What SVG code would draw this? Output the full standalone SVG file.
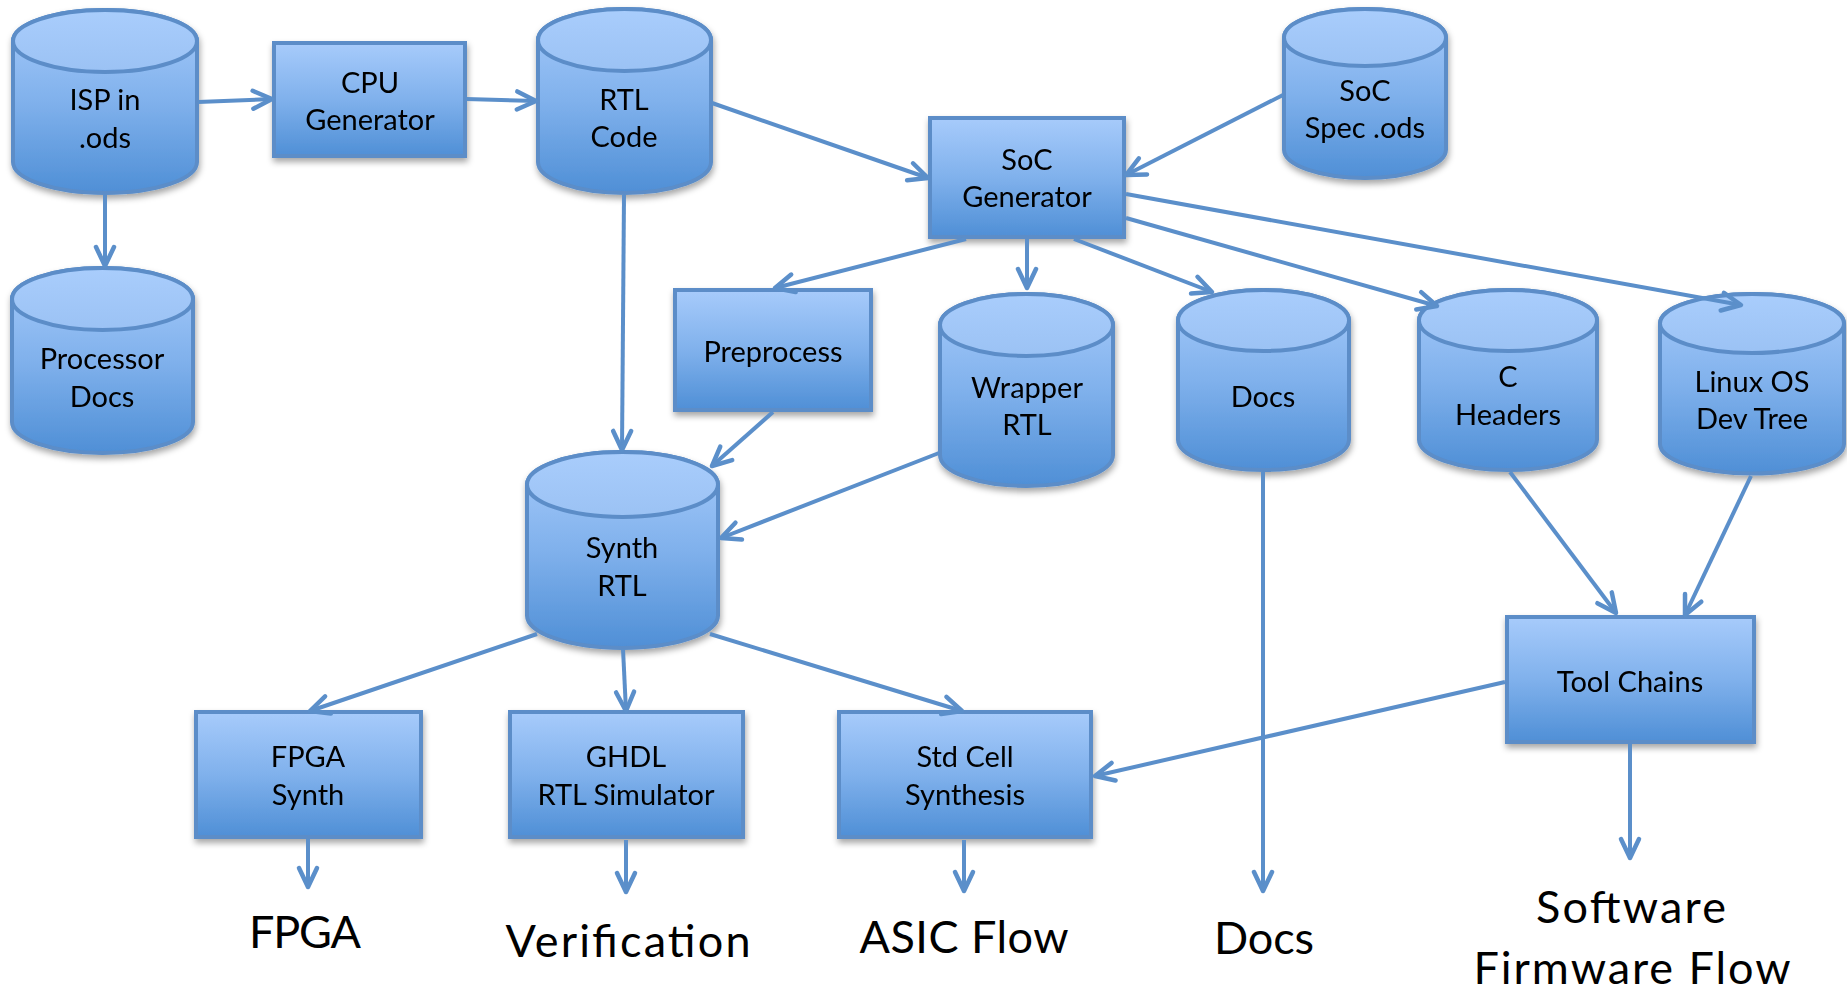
<svg xmlns="http://www.w3.org/2000/svg" width="1847" height="991" viewBox="0 0 1847 991">
  <defs>
    <linearGradient id="fillBlue" x1="0" y1="0" x2="0" y2="1">
      <stop offset="0" stop-color="#a7cbfb"/>
      <stop offset="0.5" stop-color="#80b1ec"/>
      <stop offset="1" stop-color="#4f8fd6"/>
    </linearGradient>
    <linearGradient id="capBlue" x1="0" y1="0" x2="0" y2="1">
      <stop offset="0" stop-color="#a9cdfc"/>
      <stop offset="1" stop-color="#9bc2f4"/>
    </linearGradient>
    <filter id="shadow" x="-10%" y="-10%" width="125%" height="130%">
      <feDropShadow dx="1" dy="4" stdDeviation="3" flood-color="#000000" flood-opacity="0.35"/>
    </filter>
    <marker id="arrow" markerUnits="userSpaceOnUse" markerWidth="40" markerHeight="40" viewBox="-30 -20 40 40" refX="0" refY="0" orient="auto">
      <path d="M -19 -9 L 0 0 L -19 9" fill="none" stroke="#5b8fca" stroke-width="4.5" stroke-linecap="round" stroke-linejoin="round"/>
    </marker>
    <style>
      .shape { fill: url(#fillBlue); stroke: #5b8dc8; stroke-width: 4; }
      .cap { fill: url(#capBlue); stroke: #5b8dc8; stroke-width: 4; }
      .node { filter: url(#shadow); }
      .lbl { font-family: Lato, "Liberation Sans", sans-serif; font-size: 29px; fill: #000000; text-anchor: middle; }
      .big { font-family: Lato, "Liberation Sans", sans-serif; font-size: 45px; fill: #000000; text-anchor: middle; }
      .conn line { stroke: #5b8fca; stroke-width: 4; fill: none; marker-end: url(#arrow); }
    </style>
  </defs>

  <rect x="0" y="0" width="1847" height="991" fill="#ffffff"/>

  <!-- ISP in .ods -->
  <g id="isp-ods" class="node">
    <path class="shape" d="M13,41 L13,162 A92,31 0 0 0 197,162 L197,41 A92,31 0 0 0 13,41 Z"/>
    <ellipse class="cap" cx="105" cy="41" rx="92" ry="31"/>
    <text class="lbl" x="105" y="110">ISP in</text>
    <text class="lbl" x="105" y="148">.ods</text>
  </g>

  <!-- CPU Generator -->
  <g id="cpu-generator" class="node">
    <rect class="shape" x="274" y="43" width="191" height="113"/>
    <text class="lbl" x="370" y="93">CPU</text>
    <text class="lbl" x="370" y="130">Generator</text>
  </g>

  <!-- RTL Code -->
  <g id="rtl-code" class="node">
    <path class="shape" d="M538,40 L538,162 A86.5,31 0 0 0 711,162 L711,40 A86.5,31 0 0 0 538,40 Z"/>
    <ellipse class="cap" cx="624.5" cy="40" rx="86.5" ry="31"/>
    <text class="lbl" x="624" y="110">RTL</text>
    <text class="lbl" x="624" y="147">Code</text>
  </g>

  <!-- SoC Generator -->
  <g id="soc-generator" class="node">
    <rect class="shape" x="930" y="118" width="194" height="119"/>
    <text class="lbl" x="1027" y="170">SoC</text>
    <text class="lbl" x="1027" y="207">Generator</text>
  </g>

  <!-- SoC Spec .ods -->
  <g id="soc-spec" class="node">
    <path class="shape" d="M1284,37.5 L1284,149.5 A81,28.5 0 0 0 1446,149.5 L1446,37.5 A81,28.5 0 0 0 1284,37.5 Z"/>
    <ellipse class="cap" cx="1365" cy="37.5" rx="81" ry="28.5"/>
    <text class="lbl" x="1365" y="101">SoC</text>
    <text class="lbl" x="1365" y="138">Spec .ods</text>
  </g>

  <!-- Processor Docs -->
  <g id="processor-docs" class="node">
    <path class="shape" d="M12,299 L12,422 A90.5,31 0 0 0 193,422 L193,299 A90.5,31 0 0 0 12,299 Z"/>
    <ellipse class="cap" cx="102.5" cy="299" rx="90.5" ry="31"/>
    <text class="lbl" x="102" y="369">Processor</text>
    <text class="lbl" x="102" y="407">Docs</text>
  </g>

  <!-- Preprocess -->
  <g id="preprocess" class="node">
    <rect class="shape" x="675" y="290" width="196" height="120"/>
    <text class="lbl" x="773" y="362">Preprocess</text>
  </g>

  <!-- Wrapper RTL -->
  <g id="wrapper-rtl" class="node">
    <path class="shape" d="M940,325 L940,455 A86.5,31 0 0 0 1113,455 L1113,325 A86.5,31 0 0 0 940,325 Z"/>
    <ellipse class="cap" cx="1026.5" cy="325" rx="86.5" ry="31"/>
    <text class="lbl" x="1027" y="398">Wrapper</text>
    <text class="lbl" x="1027" y="435">RTL</text>
  </g>

  <!-- Docs (store) -->
  <g id="docs-store" class="node">
    <path class="shape" d="M1178,320.5 L1178,439.5 A85.5,30.5 0 0 0 1349,439.5 L1349,320.5 A85.5,30.5 0 0 0 1178,320.5 Z"/>
    <ellipse class="cap" cx="1263.5" cy="320.5" rx="85.5" ry="30.5"/>
    <text class="lbl" x="1263" y="407">Docs</text>
  </g>

  <!-- C Headers -->
  <g id="c-headers" class="node">
    <path class="shape" d="M1419,320.5 L1419,439.5 A89,30.5 0 0 0 1597,439.5 L1597,320.5 A89,30.5 0 0 0 1419,320.5 Z"/>
    <ellipse class="cap" cx="1508" cy="320.5" rx="89" ry="30.5"/>
    <text class="lbl" x="1508" y="387">C</text>
    <text class="lbl" x="1508" y="425">Headers</text>
  </g>

  <!-- Linux OS Dev Tree -->
  <g id="linux-dev-tree" class="node">
    <path class="shape" d="M1660,323.5 L1660,444 A92,29.5 0 0 0 1844,444 L1844,323.5 A92,29.5 0 0 0 1660,323.5 Z"/>
    <ellipse class="cap" cx="1752" cy="323.5" rx="92" ry="29.5"/>
    <text class="lbl" x="1752" y="392">Linux OS</text>
    <text class="lbl" x="1752" y="429">Dev Tree</text>
  </g>

  <!-- Synth RTL -->
  <g id="synth-rtl" class="node">
    <path class="shape" d="M527,484.5 L527,615.5 A95.5,32.5 0 0 0 718,615.5 L718,484.5 A95.5,32.5 0 0 0 527,484.5 Z"/>
    <ellipse class="cap" cx="622.5" cy="484.5" rx="95.5" ry="32.5"/>
    <text class="lbl" x="622" y="558">Synth</text>
    <text class="lbl" x="622" y="596">RTL</text>
  </g>

  <!-- Tool Chains -->
  <g id="tool-chains" class="node">
    <rect class="shape" x="1507" y="617" width="247" height="125"/>
    <text class="lbl" x="1630" y="692">Tool Chains</text>
  </g>

  <!-- FPGA Synth -->
  <g id="fpga-synth" class="node">
    <rect class="shape" x="196" y="712" width="225" height="125"/>
    <text class="lbl" x="308" y="767">FPGA</text>
    <text class="lbl" x="308" y="805">Synth</text>
  </g>

  <!-- GHDL RTL Simulator -->
  <g id="ghdl-sim" class="node">
    <rect class="shape" x="510" y="712" width="233" height="125"/>
    <text class="lbl" x="626" y="767">GHDL</text>
    <text class="lbl" x="626" y="805">RTL Simulator</text>
  </g>

  <!-- Std Cell Synthesis -->
  <g id="std-cell" class="node">
    <rect class="shape" x="839" y="712" width="252" height="125"/>
    <text class="lbl" x="965" y="767">Std Cell</text>
    <text class="lbl" x="965" y="805">Synthesis</text>
  </g>

  <!-- connectors, drawn above the shapes so arrowheads stay visible -->
  <g id="connectors" class="conn">
    <line x1="198" y1="102" x2="272" y2="99"/>
    <line x1="466" y1="99" x2="536" y2="101"/>
    <line x1="105" y1="195" x2="105" y2="266"/>
    <line x1="712" y1="103" x2="928" y2="178"/>
    <line x1="1283" y1="95" x2="1126" y2="175"/>
    <line x1="966" y1="239" x2="775" y2="288"/>
    <line x1="1027" y1="239" x2="1027" y2="288"/>
    <line x1="1074" y1="239" x2="1212" y2="292"/>
    <line x1="1126" y1="218" x2="1437" y2="306"/>
    <line x1="1126" y1="194" x2="1741" y2="305"/>
    <line x1="624" y1="195" x2="622" y2="450"/>
    <line x1="773" y1="412" x2="712" y2="466"/>
    <line x1="939" y1="453" x2="721" y2="538"/>
    <line x1="537" y1="634" x2="310" y2="711"/>
    <line x1="623" y1="649" x2="626" y2="711"/>
    <line x1="710" y1="634" x2="962" y2="711"/>
    <line x1="308" y1="839" x2="308" y2="887"/>
    <line x1="626" y1="840" x2="626" y2="892"/>
    <line x1="964" y1="840" x2="964" y2="891"/>
    <line x1="1263" y1="472" x2="1263" y2="891"/>
    <line x1="1510" y1="472" x2="1616" y2="613"/>
    <line x1="1751" y1="476" x2="1685" y2="615"/>
    <line x1="1505" y1="682" x2="1095" y2="776"/>
    <line x1="1630" y1="744" x2="1630" y2="858"/>
  </g>

  <!-- flow outputs -->
  <g id="outputs">
    <text class="big" x="305" y="948" textLength="112" lengthAdjust="spacing">FPGA</text>
    <text class="big" x="628" y="957" textLength="245" lengthAdjust="spacing">Verification</text>
    <text class="big" x="964" y="953" textLength="209" lengthAdjust="spacing">ASIC Flow</text>
    <text class="big" x="1264" y="954" textLength="100" lengthAdjust="spacing">Docs</text>
    <text class="big" x="1631" y="923" textLength="190" lengthAdjust="spacing">Software</text>
    <text class="big" x="1632" y="984" textLength="317" lengthAdjust="spacing">Firmware Flow</text>
  </g>
</svg>
